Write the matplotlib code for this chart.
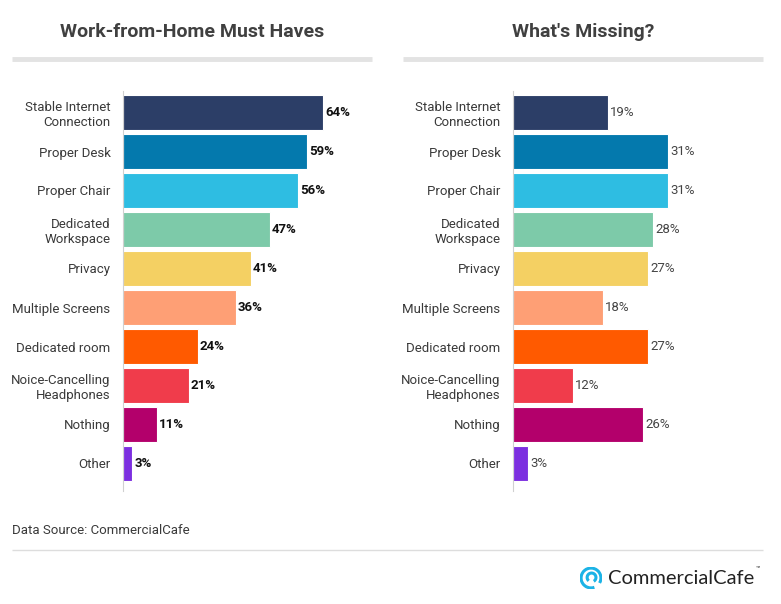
import matplotlib.pyplot as plt
from matplotlib.patches import Arc

plt.rcParams['font.family'] = ['Roboto', 'DejaVu Sans']

categories = ['Stable Internet\nConnection', 'Proper Desk', 'Proper Chair',
              'Dedicated\nWorkspace', 'Privacy', 'Multiple Screens',
              'Dedicated room', 'Noice-Cancelling\nHeadphones', 'Nothing', 'Other']
must_haves = [64, 59, 56, 47, 41, 36, 24, 21, 11, 3]
missing = [19, 31, 31, 28, 27, 18, 27, 12, 26, 3]
colors = ['#2c3e67', '#0479ad', '#2ebde2', '#7dcaa9', '#f4d063',
          '#fe9f75', '#ff5a00', '#f03c4b', '#b3006b', '#7c2fe0']

W, H = 781, 604
fig = plt.figure(figsize=(W / 100, H / 100), dpi=100)
fig.patch.set_facecolor('white')

def px(x, y):
    return x / W, 1 - y / H

def panel(left, vals, xmax, title, title_x, bold_vals, val_color):
    ax = fig.add_axes([left / W, (H - 483) / H, 250 / W, 390 / H])
    y = list(range(len(categories)))
    ax.barh(y, vals, height=0.9, color=colors, edgecolor='white', linewidth=0.8)
    ax.set_xlim(0, xmax)
    ax.set_ylim(len(categories) - 0.5, -0.5)
    ax.set_yticks(y)
    ax.set_yticklabels(categories, fontsize=9.5, color='#3a3a3a', linespacing=1.15)
    ax.tick_params(axis='y', length=0, pad=9)
    ax.set_xticks([])
    for s in ['top', 'right', 'bottom']:
        ax.spines[s].set_visible(False)
    ax.spines['left'].set_color('#d0d0d0')
    ax.spines['left'].set_linewidth(0.8)
    ax.spines['left'].set_bounds(len(categories) - 0.3, -0.55)
    for i, v in enumerate(vals):
        ax.text(v + xmax * 0.008, i, f'{v}%', va='center', ha='left', fontsize=9.5,
                fontweight='bold' if bold_vals else 'normal', color=val_color)
    fig.text(*px(title_x, 32), title, ha='center', va='center', fontsize=14,
             fontweight='bold', color='#404040')
    return ax

panel(123, must_haves, 80, 'Work-from-Home Must Haves', 192, True, '#111111')
panel(513, missing, 50, "What's Missing?", 583, False, '#444444')

# grey rules under titles
fig.add_artist(plt.Line2D([12 / W, 372 / W], [1 - 59 / H] * 2, color='#e3e3e3', lw=3.5,
                          solid_capstyle='butt'))
fig.add_artist(plt.Line2D([403 / W, 763 / W], [1 - 59 / H] * 2, color='#e3e3e3', lw=3.5,
                          solid_capstyle='butt'))

fig.text(*px(12, 530), 'Data Source: CommercialCafe', ha='left', va='center',
         fontsize=9.5, color='#3a3a3a')
fig.add_artist(plt.Line2D([12 / W, 763 / W], [1 - 550 / H] * 2, color='#dddddd', lw=1,
                          solid_capstyle='butt'))

# logo
fig.text(*px(608, 578), 'CommercialCafe', ha='left', va='center', fontsize=14.5,
         color='#222222', family=['Lato', 'DejaVu Sans'])
fig.text(*px(756, 569), '™', ha='left', va='center', fontsize=5, color='#222222')
lax = fig.add_axes([580 / W, 1 - 589 / H, 22 / W, 22 / H])
lax.set_xlim(-1, 1)
lax.set_ylim(-1, 1)
lax.set_aspect('equal')
lax.axis('off')
lax.add_patch(Arc((0, 0), 1.8, 1.8, theta1=330, theta2=290, color='#1cb3e6', lw=2.2))
lax.add_patch(Arc((0.05, 0.05), 0.8, 0.8, theta1=300, theta2=230, color='#1cb3e6', lw=2.2))

fig.savefig('out.png', dpi=100, facecolor='white')
